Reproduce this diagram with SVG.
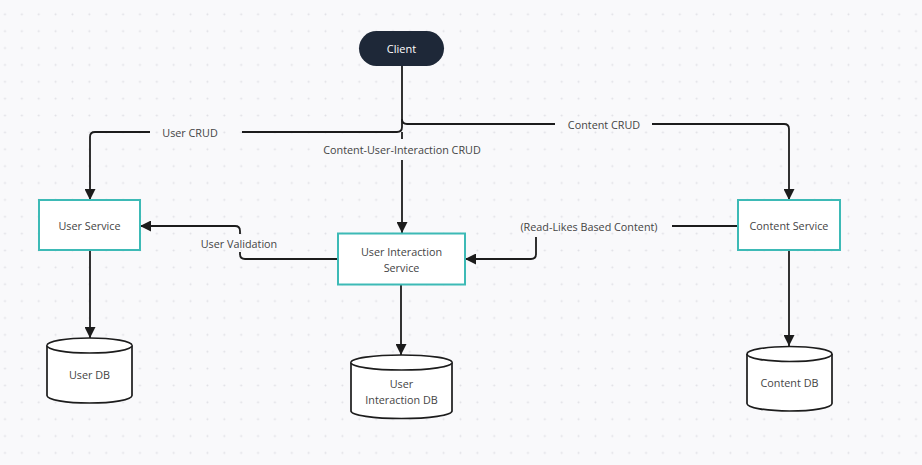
<svg xmlns="http://www.w3.org/2000/svg" width="922" height="465" viewBox="0 0 922 465">
  <defs>
    <pattern id="dots" x="-3.43" y="5.87" width="16.87" height="16.87" patternUnits="userSpaceOnUse">
      <circle cx="8.43" cy="8.43" r="1" fill="#e0e0e5"/>
    </pattern>
    <marker id="arr" viewBox="0 0 11 11" refX="11" refY="5.5" markerWidth="11" markerHeight="11" markerUnits="userSpaceOnUse" orient="auto">
      <path d="M0,0 L11,5.5 L0,11 Z" fill="#1c1c1c"/>
    </marker>
  </defs>
  <style>
    .bg { fill: #f9f9fb; }
    .box { fill: #ffffff; stroke: #3dbab6; stroke-width: 2; }
    .db { fill: #ffffff; stroke: #1c1c1c; stroke-width: 1.7; }
    .line { fill: none; stroke: #1c1c1c; stroke-width: 1.8; }
    .t { font-family: "Open Sans", "Noto Sans", "Liberation Sans", sans-serif; font-size: 10.8px; fill: #444444; text-anchor: middle; dominant-baseline: central; }
    .tw { font-family: "Open Sans", "Noto Sans", "Liberation Sans", sans-serif; font-size: 11px; fill: #ffffff; text-anchor: middle; dominant-baseline: central; }
  </style>
  <rect class="bg" x="0" y="0" width="922" height="465"/>
  <rect x="0" y="0" width="922" height="465" fill="url(#dots)"/>

  <g id="connectors">
    <!-- Client -> User Service -->
    <path class="line" d="M402,66 L402,127 Q402,132 397,132 L242,132"/>
    <path class="line" d="M150,132 L95,132 Q90,132 90,137 L90,200" marker-end="url(#arr)"/>
    <text class="t" x="190" y="132">User CRUD</text>
    <!-- Client -> Content Service -->
    <path class="line" d="M402,119 Q402,124 407,124 L555,124"/>
    <path class="line" d="M652,124 L784,124 Q789,124 789,129 L789,200" marker-end="url(#arr)"/>
    <text class="t" x="604" y="124">Content CRUD</text>
    <!-- Client -> User Interaction Service -->
    <path class="line" d="M402,132 L402,139"/>
    <path class="line" d="M402,160 L402,233" marker-end="url(#arr)"/>
    <text class="t" x="402" y="149">Content-User-Interaction CRUD</text>
    <!-- User Interaction Service -> User Service -->
    <path class="line" d="M338,259 L245,259 Q240,259 240,254 L240,252"/>
    <path class="line" d="M240,234 L240,231 Q240,226 235,226 L140,226" marker-end="url(#arr)"/>
    <text class="t" x="239" y="243">User Validation</text>
    <!-- Content Service -> User Interaction Service -->
    <path class="line" d="M738,226 L672,226"/>
    <path class="line" d="M536,237 L536,254 Q536,259 531,259 L465,259" marker-end="url(#arr)"/>
    <text class="t" x="589" y="226">(Read-Likes Based Content)</text>
    <!-- Services -> DBs -->
    <path class="line" d="M90,250 L90,338" marker-end="url(#arr)"/>
    <path class="line" d="M401,285 L401,355" marker-end="url(#arr)"/>
    <path class="line" d="M789,250 L789,346" marker-end="url(#arr)"/>
  </g>

  <g id="client">
    <rect x="359" y="31" width="85" height="35" rx="17.5" ry="17.5" fill="#1e2838"/>
    <text class="tw" x="401.5" y="48.5">Client</text>
  </g>

  <g id="user-service">
    <rect class="box" x="39" y="200" width="101" height="50"/>
    <text class="t" x="89.5" y="225.5">User Service</text>
  </g>

  <g id="user-interaction-service">
    <rect class="box" x="338" y="233.5" width="127" height="51"/>
    <text class="t" x="401.5" y="251.5">User Interaction</text>
    <text class="t" x="401.5" y="267">Service</text>
  </g>

  <g id="content-service">
    <rect class="box" x="738" y="200" width="102" height="50"/>
    <text class="t" x="789" y="225.5">Content Service</text>
  </g>

  <g id="user-db">
    <path class="db" d="M47,345.5 L47,395.5 A42.5,7.5 0 0 0 132,395.5 L132,345.5 A42.5,7.5 0 0 0 47,345.5 Z"/>
    <path class="db" d="M47,345.5 A42.5,7.5 0 0 0 132,345.5" fill="none"/>
    <text class="t" x="89.5" y="374">User DB</text>
  </g>

  <g id="user-interaction-db">
    <path class="db" d="M351,362.5 L351,411 A50.5,7.5 0 0 0 452,411 L452,362.5 A50.5,7.5 0 0 0 351,362.5 Z"/>
    <path class="db" d="M351,362.5 A50.5,7.5 0 0 0 452,362.5" fill="none"/>
    <text class="t" x="401.5" y="383">User</text>
    <text class="t" x="401.5" y="399">Interaction DB</text>
  </g>

  <g id="content-db">
    <path class="db" d="M747,354 L747,403.5 A42.5,7.5 0 0 0 832,403.5 L832,354 A42.5,7.5 0 0 0 747,354 Z"/>
    <path class="db" d="M747,354 A42.5,7.5 0 0 0 832,354" fill="none"/>
    <text class="t" x="789.5" y="382.5">Content DB</text>
  </g>
</svg>
